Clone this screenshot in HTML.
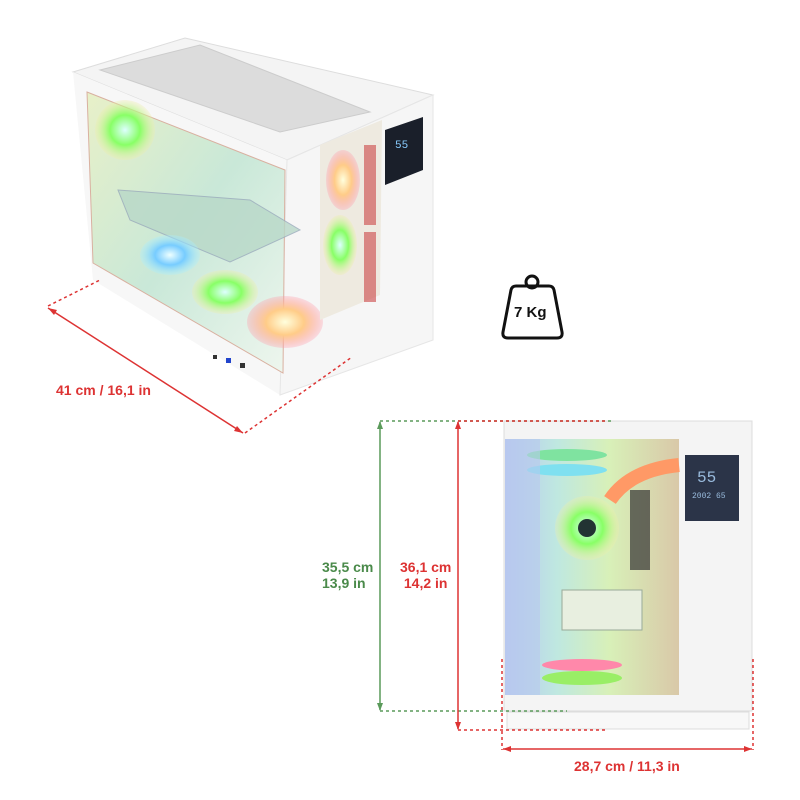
<!DOCTYPE html>
<html><head><meta charset="utf-8"><style>
html,body{margin:0;padding:0;background:#fff;}
body{width:800px;height:800px;position:relative;overflow:hidden;font-family:"Liberation Sans",sans-serif;}
.t{position:absolute;font-weight:bold;font-size:14px;white-space:nowrap;}
</style></head><body>
<svg width="800" height="800" style="position:absolute;left:0;top:0">
<defs>
<radialGradient id="fg" cx="50%" cy="50%" r="50%"><stop offset="0" stop-color="#dff"/><stop offset=".5" stop-color="#8f6"/><stop offset="1" stop-color="#eea" stop-opacity=".3"/></radialGradient>
<radialGradient id="fy" cx="50%" cy="50%" r="50%"><stop offset="0" stop-color="#ffd"/><stop offset=".5" stop-color="#fc8"/><stop offset="1" stop-color="#f9a" stop-opacity=".3"/></radialGradient>
<radialGradient id="fb" cx="50%" cy="50%" r="50%"><stop offset="0" stop-color="#eff"/><stop offset=".5" stop-color="#7cf"/><stop offset="1" stop-color="#aef" stop-opacity=".3"/></radialGradient>
<linearGradient id="win" x1="0" y1="0" x2="1" y2="1"><stop offset="0" stop-color="#e8f0c8"/><stop offset=".5" stop-color="#c9e8d8"/><stop offset="1" stop-color="#eef6ee"/></linearGradient>
<linearGradient id="fw" x1="0" y1="0" x2="1" y2="0"><stop offset="0" stop-color="#b8c8f0"/><stop offset=".3" stop-color="#bfe8e0"/><stop offset=".6" stop-color="#d8f0b8"/><stop offset="1" stop-color="#d9c8a8"/></linearGradient>
</defs>
<!-- ISO CASE -->
<polygon points="73,72 185,38 433,95 287,160" fill="#f4f4f4" stroke="#ddd"/>
<polygon points="100,70 200,45 370,112 280,132" fill="#dcdcdc" stroke="#ccc"/>
<polygon points="73,72 287,160 280,395 93,280" fill="#f7f7f7"/>
<polygon points="287,160 433,95 433,340 280,395" fill="#f6f6f6" stroke="#e6e6e6"/>
<polygon points="87,92 285,170 283,373 93,263" fill="url(#win)" stroke="#d9b0a0"/>
<circle cx="125" cy="130" r="30" fill="url(#fg)"/>
<polygon points="118,190 250,200 300,230 230,262 130,220" fill="#b8d8c8" stroke="#9ab" opacity=".8"/>
<ellipse cx="170" cy="255" rx="30" ry="20" fill="url(#fb)"/>
<ellipse cx="225" cy="292" rx="33" ry="22" fill="url(#fg)"/>
<ellipse cx="285" cy="322" rx="38" ry="26" fill="url(#fy)"/>
<polygon points="320,145 382,120 380,295 320,320" fill="#eeeae0"/>
<ellipse cx="343" cy="180" rx="17" ry="30" fill="url(#fy)"/>
<ellipse cx="340" cy="245" rx="17" ry="30" fill="url(#fg)"/>
<rect x="364" y="145" width="12" height="80" fill="#c44" opacity=".6"/>
<rect x="364" y="232" width="12" height="70" fill="#c44" opacity=".6"/>
<polygon points="385,130 423,117 423,170 385,185" fill="#1a1f2a"/>
<text x="395" y="148" fill="#8cf" font-size="11" font-family="Liberation Mono">55</text>
<rect x="213" y="355" width="4" height="4" fill="#333"/><rect x="226" y="358" width="5" height="5" fill="#24c"/><rect x="240" y="363" width="5" height="5" fill="#333"/>
<!-- iso dims -->
<line x1="48" y1="308" x2="243" y2="433" stroke="#d33" stroke-width="1.5"/>
<polygon points="48,308 57,310 54,315" fill="#d33"/><polygon points="243,433 234,431 237,426" fill="#d33"/>
<line x1="48" y1="306" x2="100" y2="280" stroke="#d33" stroke-width="1.5" stroke-dasharray="3,3"/>
<line x1="245" y1="433" x2="352" y2="357" stroke="#d33" stroke-width="1.5" stroke-dasharray="3,3"/>
<!-- weight -->
<path d="M516,286 L549,286 Q553,286 554,290 L562,332 Q563,338 557,338 L508,338 Q502,338 503,332 L511,290 Q512,286 516,286Z" fill="none" stroke="#111" stroke-width="3"/>
<circle cx="532" cy="282" r="6" fill="none" stroke="#111" stroke-width="3"/>
<!-- FRONT CASE -->
<rect x="504" y="421" width="248" height="290" fill="#f4f4f4" stroke="#ddd"/>
<rect x="505" y="439" width="174" height="256" fill="url(#fw)"/>
<ellipse cx="567" cy="455" rx="40" ry="6" fill="#7fe3a0"/>
<ellipse cx="567" cy="470" rx="40" ry="6" fill="#7fe0f0"/>
<circle cx="587" cy="528" r="32" fill="url(#fg)"/><circle cx="587" cy="528" r="9" fill="#233"/>
<path d="M610,500 Q630,470 679,465" stroke="#f96" stroke-width="14" fill="none"/>
<rect x="630" y="490" width="20" height="80" fill="#333" opacity=".7"/>
<rect x="562" y="590" width="80" height="40" fill="#e8efe0" stroke="#9a9"/>
<ellipse cx="582" cy="665" rx="40" ry="6" fill="#f8a"/><ellipse cx="582" cy="678" rx="40" ry="7" fill="#9e6"/>
<rect x="505" y="439" width="35" height="256" fill="#b8c8ee" opacity=".6"/>
<rect x="685" y="455" width="54" height="66" fill="#2b3448"/>
<text x="697" y="482" fill="#9bd" font-size="16" font-family="Liberation Mono">55</text>
<text x="692" y="498" fill="#9bd" font-size="8" font-family="Liberation Mono">2002 65</text>
<rect x="507" y="712" width="242" height="17" fill="#f8f8f8" stroke="#ddd"/>
<!-- front dims -->
<g stroke-width="1.5" stroke-dasharray="3,3" fill="none">
<line x1="380" y1="421" x2="612" y2="421" stroke="#5a9a5a"/>
<line x1="380" y1="711" x2="567" y2="711" stroke="#5a9a5a"/>
<line x1="458" y1="421" x2="608" y2="421" stroke="#d33"/>
<line x1="458" y1="730" x2="608" y2="730" stroke="#d33"/>
<line x1="502" y1="659" x2="502" y2="750" stroke="#d33"/>
<line x1="753" y1="659" x2="753" y2="750" stroke="#d33"/>
</g>
<line x1="380" y1="422" x2="380" y2="710" stroke="#5a9a5a" stroke-width="1.5"/>
<polygon points="380,421 377,429 383,429" fill="#5a9a5a"/><polygon points="380,711 377,703 383,703" fill="#5a9a5a"/>
<line x1="458" y1="422" x2="458" y2="729" stroke="#d33" stroke-width="1.5"/>
<polygon points="458,421 455,429 461,429" fill="#d33"/><polygon points="458,730 455,722 461,722" fill="#d33"/>
<line x1="503" y1="749" x2="752" y2="749" stroke="#d33" stroke-width="1.5"/>
<polygon points="503,749 511,746 511,752" fill="#d33"/><polygon points="752,749 744,746 744,752" fill="#d33"/>
</svg>
<div class="t" style="left:514px;top:304px;font-size:15px;color:#111">7 Kg</div>
<div class="t" style="left:56px;top:382px;color:#d33">41 cm / 16,1 in</div>
<div class="t" style="left:322px;top:559px;color:#4a8a4a;line-height:16px">35,5 cm<br>13,9 in</div>
<div class="t" style="left:400px;top:559px;color:#d33;line-height:16px;text-align:center">36,1 cm<br>14,2 in</div>
<div class="t" style="left:574px;top:758px;color:#d33">28,7 cm / 11,3 in</div>
</body></html>
